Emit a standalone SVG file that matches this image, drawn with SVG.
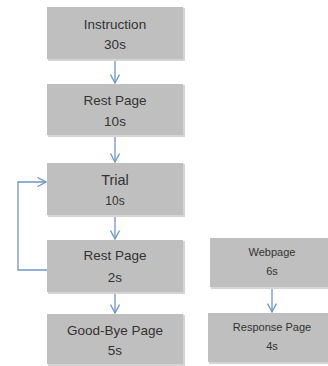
<svg xmlns="http://www.w3.org/2000/svg" width="328" height="366" viewBox="0 0 328 366">
<style>
.box{fill:#bfbfbf;}
.sh{fill:#d4d4d4;}
.t{font-family:"Liberation Sans",Arial,sans-serif;font-size:13.5px;fill:#333333;text-anchor:middle;dominant-baseline:central;}
.s{font-size:12px;}
.xs{font-size:11px;}
.c{fill:none;stroke:#6f95c8;stroke-width:1.3;}
</style>
<defs>
<marker id="ah" viewBox="0 0 10 10" refX="9.5" refY="5" markerWidth="10" markerHeight="10" markerUnits="userSpaceOnUse" orient="auto">
<path d="M1,0.5 L9.5,5 L1,9.5" fill="none" stroke="#6f95c8" stroke-width="1.3"/>
</marker>
</defs>
<rect width="328" height="366" fill="#ffffff"/>
<g id="connectors">
<line class="c" x1="115" y1="59" x2="115" y2="83" marker-end="url(#ah)"/>
<line class="c" x1="115" y1="136" x2="115" y2="162" marker-end="url(#ah)"/>
<line class="c" x1="115" y1="216" x2="115" y2="239" marker-end="url(#ah)"/>
<line class="c" x1="115" y1="293" x2="115" y2="313" marker-end="url(#ah)"/>
<line class="c" x1="272" y1="288" x2="272" y2="312" marker-end="url(#ah)"/>
<polyline class="c" points="47,270 18,270 18,182 46,182" marker-end="url(#ah)"/>
</g>
<g id="instruction">
<rect class="sh" x="48" y="8" width="137" height="53"/>
<rect class="box" x="47" y="7" width="136" height="52"/>
<text class="t" x="115" y="24">Instruction</text>
<text class="t" x="115" y="44">30s</text>
</g>
<g id="rest1">
<rect class="sh" x="48" y="85" width="137" height="52"/>
<rect class="box" x="47" y="84" width="136" height="51"/>
<text class="t" x="115" y="100">Rest Page</text>
<text class="t" x="115" y="121">10s</text>
</g>
<g id="trial">
<rect class="sh" x="48" y="164" width="137" height="53"/>
<rect class="box" x="47" y="163" width="136" height="52"/>
<text class="t" x="115" y="180" style="font-size:14.5px">Trial</text>
<text class="t s" x="115" y="201">10s</text>
</g>
<g id="rest2">
<rect class="sh" x="48" y="241" width="137" height="53"/>
<rect class="box" x="47" y="240" width="136" height="52"/>
<text class="t" x="115" y="255">Rest Page</text>
<text class="t" x="115" y="277">2s</text>
</g>
<g id="goodbye">
<rect class="sh" x="48" y="315" width="137" height="51"/>
<rect class="box" x="47" y="314" width="136" height="50"/>
<text class="t" x="115" y="330">Good-Bye Page</text>
<text class="t" x="115" y="350">5s</text>
</g>
<g id="webpage">
<rect class="sh" x="211" y="239" width="117" height="50"/>
<rect class="box" x="210" y="238" width="118" height="49"/>
<text class="t xs" x="272" y="252">Webpage</text>
<text class="t xs" x="272" y="271">6s</text>
</g>
<g id="response">
<rect class="sh" x="209" y="314" width="119" height="50"/>
<rect class="box" x="208" y="313" width="120" height="49"/>
<text class="t xs" x="272" y="327">Response Page</text>
<text class="t xs" x="272" y="346">4s</text>
</g>
</svg>
